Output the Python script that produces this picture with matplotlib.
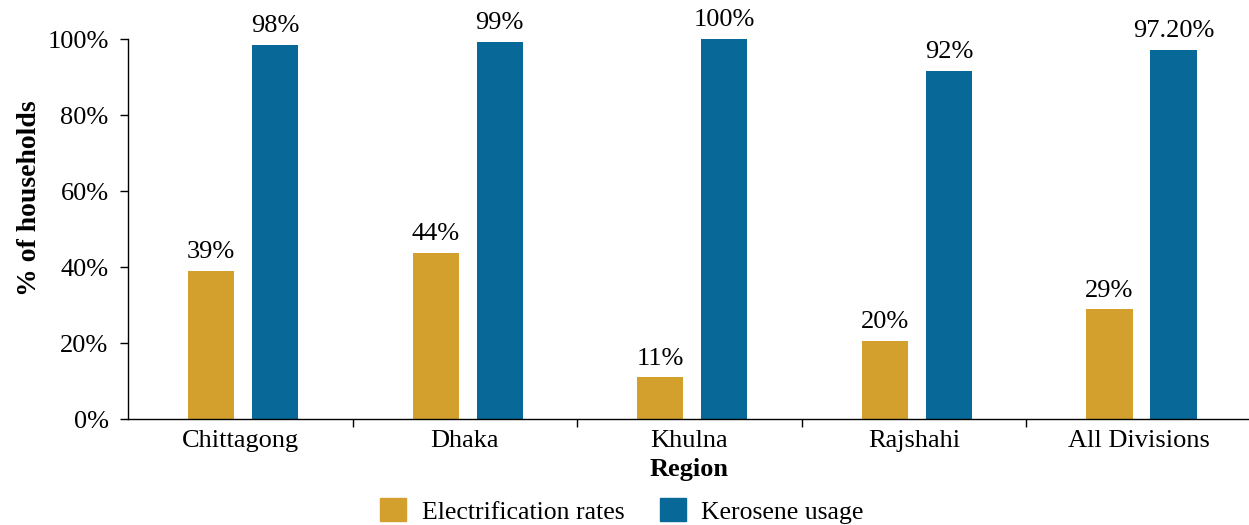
import numpy as np
import matplotlib.pyplot as plt
from matplotlib.patches import Patch

# data
regions = ['Chittagong', 'Dhaka', 'Khulna', 'Rajshahi', 'All Divisions']
electrification = [0.39, 0.437, 0.11, 0.205, 0.289]
kerosene = [0.984, 0.992, 1.0, 0.916, 0.972]
elec_labels = ['39%', '44%', '11%', '20%', '29%']
kero_labels = ['98%', '99%', '100%', '92%', '97.20%']

gold = '#D3A02E'
blue = '#086898'

plt.rcParams['font.family'] = ['Liberation Serif', 'DejaVu Serif']

fig = plt.figure(figsize=(12.49, 5.25), dpi=100)
ax = fig.add_axes([128 / 1249, 106 / 525, 1123 / 1249, 380 / 525])

x = np.arange(len(regions))
w = 0.205
b1 = ax.bar(x - 0.13, electrification, w, color=gold)
b2 = ax.bar(x + 0.155, kerosene, w, color=blue)

for bars, labels in ((b1, elec_labels), (b2, kero_labels)):
    for rect, lab in zip(bars, labels):
        ax.annotate(lab, (rect.get_x() + rect.get_width() / 2, rect.get_height()),
                    xytext=(0, 5.5), textcoords='offset points',
                    ha='center', va='bottom', fontsize=19, annotation_clip=False)

ax.set_xlim(-0.5, len(regions) - 0.5)
ax.set_ylim(0, 1.0)
ax.set_yticks(np.arange(0, 1.01, 0.2))
ax.set_yticklabels([f'{int(round(v * 100))}%' for v in np.arange(0, 1.01, 0.2)])
ax.set_xticks(x)
ax.set_xticklabels(regions)
ax.set_xticks(np.arange(0.5, len(regions) - 0.5, 1), minor=True)
ax.tick_params(axis='x', which='major', length=0, labelsize=19, pad=8)
ax.tick_params(axis='x', which='minor', length=6, width=1)
ax.tick_params(axis='y', length=6, width=1, labelsize=19, pad=8)

for s in ('top', 'right'):
    ax.spines[s].set_visible(False)
ax.spines['left'].set_linewidth(1)
ax.spines['bottom'].set_linewidth(1)

ax.set_xlabel('Region', fontsize=19, fontweight='bold', labelpad=4)
ax.set_ylabel('% of households', fontsize=20, fontweight='bold')
ax.yaxis.set_label_coords(-0.077, 0.58)

handles = [Patch(color=gold), Patch(color=blue)]
fig.legend(handles, ['Electrification rates', 'Kerosene usage'],
           loc='center', bbox_to_anchor=(622 / 1249, 14 / 525), ncol=2,
           frameon=False, fontsize=18.5, handlelength=1.0, handleheight=1.0,
           columnspacing=1.4, handletextpad=0.6)

fig.savefig('out.png', dpi=100)
